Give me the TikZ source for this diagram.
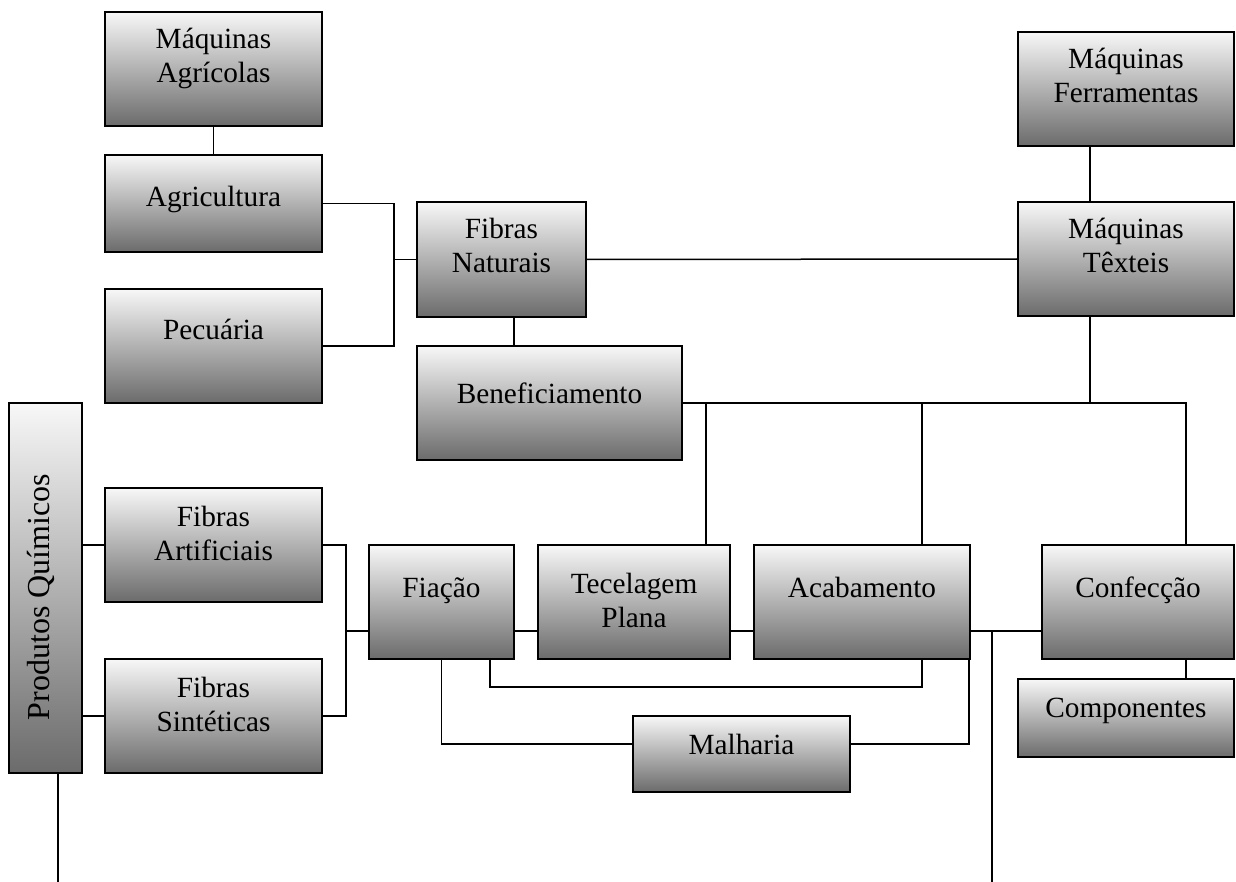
\documentclass[tikz,border=0pt]{standalone}
\usepackage{fontspec}
\setmainfont{Liberation Serif}
\newcommand{\twoline}[2]{\vtop{\baselineskip=34pt\lineskiplimit=-100pt\halign{\hfil##\hfil\cr #1\cr #2\cr}}}
\tikzset{
  box/.style={draw=black, line width=2pt, rectangle, inner sep=0pt, outer sep=0pt, anchor=north west,
    top color=white!97!black, middle color=black!24, bottom color=black!58},
  lbl/.style={inner sep=0pt, outer sep=0pt, anchor=base, font=\fontsize{29.3pt}{34pt}\selectfont},
  conn/.style={line width=1.5pt, draw=black},
}
\begin{document}
\begin{tikzpicture}[x=1pt,y=-1pt]
\fill[white] (0,0) rectangle (1236,882);
\useasboundingbox (0,0) rectangle (1236,882);

% boxes
\node[box, minimum width=217pt, minimum height=114pt] (ma) at (105,12) {};
\node[box, minimum width=217pt, minimum height=97pt]  (ag) at (105,155) {};
\node[box, minimum width=217pt, minimum height=114pt] (pe) at (105,289) {};
\node[box, minimum width=169pt, minimum height=115pt] (fn) at (417,202) {};
\node[box, minimum width=265pt, minimum height=114pt] (be) at (417,346) {};
\node[box, minimum width=216pt, minimum height=114pt] (mf) at (1018,32) {};
\node[box, minimum width=216pt, minimum height=114pt] (mt) at (1018,202) {};
\node[box, minimum width=73pt,  minimum height=370pt] (pq) at (9,403) {};
\node[box, minimum width=217pt, minimum height=114pt] (fa) at (105,488) {};
\node[box, minimum width=217pt, minimum height=114pt] (fs) at (105,659) {};
\node[box, minimum width=145pt, minimum height=114pt] (fi) at (369,545) {};
\node[box, minimum width=192pt, minimum height=114pt] (tp) at (538,545) {};
\node[box, minimum width=216pt, minimum height=114pt] (ac) at (754,545) {};
\node[box, minimum width=192pt, minimum height=114pt] (co) at (1042,545) {};
\node[box, minimum width=216pt, minimum height=78pt]  (cp) at (1018,679) {};
\node[box, minimum width=217pt, minimum height=76pt]  (mh) at (633,716) {};

% labels
\node[lbl] (ma-t) at (213.5,49) {\twoline{Máquinas}{Agrícolas}};
\node[lbl] (ag-t) at (213.5,207) {Agricultura};
\node[lbl] (pe-t) at (213.5,340) {Pecuária};
\node[lbl] (fn-t) at (501.5,239) {\twoline{Fibras}{Naturais}};
\node[lbl] (be-t) at (549.5,403) {Beneficiamento};
\node[lbl] (mf-t) at (1126,69) {\twoline{Máquinas}{Ferramentas}};
\node[lbl] (mt-t) at (1126,239) {\twoline{Máquinas}{Têxteis}};
\node[lbl] (fa-t) at (213.5,526) {\twoline{Fibras}{Artificiais}};
\node[lbl] (fs-t) at (213.5,697) {\twoline{Fibras}{Sintéticas}};
\node[lbl] (fi-t) at (441.5,597) {Fiação};
\node[lbl] (tp-t) at (634,593) {\twoline{Tecelagem}{Plana}};
\node[lbl] (ac-t) at (862,597) {Acabamento};
\node[lbl] (co-t) at (1138,597) {Confecção};
\node[lbl] (cp-t) at (1126,717) {Componentes};
\node[lbl] (mh-t) at (741.5,754) {Malharia};
\node[lbl, rotate=90, font=\fontsize{32pt}{36pt}\selectfont] (pq-t) at (49,597) {Produtos Químicos};

% connectors
\draw[conn] (ma.south) -- (ag.north);
\coordinate (jA) at (394,259.5);
\draw[conn] (ag.east) -| (jA) |- (pe.east);
\draw[conn] (jA) -- (fn.west);
\draw[conn] (fn.east) -- (mt.west);
\draw[conn] ([xshift=12.5pt]fn.south) -- ([xshift=12.5pt]fn.south |- be.north);
\draw[conn] ([xshift=-36pt]mf.south) -- ([xshift=-36pt]mt.north);
\coordinate (bR) at (1186,403);
\draw[conn] (be.east) -- (bR) -- (bR |- co.north);
\draw[conn] ([xshift=-36pt]mt.south) -- ([xshift=-36pt]mt.south |- bR);
\coordinate (bT) at (706,403);
\draw[conn] (bT) -- (bT |- tp.north);
\coordinate (bA) at (922,403);
\draw[conn] (bA) -- (bA |- ac.north);
\draw[conn] (fa.west) -- (fa.west -| pq.east);
\draw[conn] (fs.west) -- (fs.west -| pq.east);
\coordinate (jC) at (346,631);
\draw[conn] (fa.east) -| (jC) |- (fs.east);
\draw[conn] (jC) -- (jC -| fi.west);
\draw[conn] (jC -| fi.east) -- (jC -| tp.west);
\draw[conn] (jC -| tp.east) -- (jC -| ac.west);
\draw[conn] (jC -| ac.east) -- (jC -| co.west);
\coordinate (jD) at (992,631);
\coordinate (eD) at (992,882);
\draw[conn] (jD) -- (eD);
\coordinate (lF1) at (490,687);
\draw[conn] (lF1 |- fi.south) -- (lF1) -| ([xshift=60pt]ac.south);
\coordinate (lF2) at (441.5,744);
\draw[conn] (fi.south) -- (lF2) -- (lF2 -| mh.west);
\coordinate (lM) at (969,744);
\draw[conn] (lM -| mh.east) -- (lM) -- (lM |- ac.south);
\draw[conn] ([xshift=48pt]co.south) -- ([xshift=48pt]co.south |- cp.north);
\coordinate (eP) at (58,882);
\draw[conn] (eP |- pq.south) -- (eP);
\end{tikzpicture}
\end{document}
